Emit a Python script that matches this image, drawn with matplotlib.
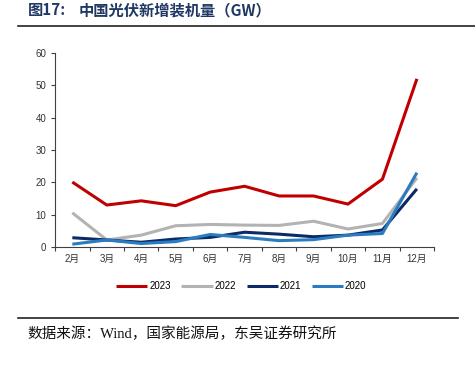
import matplotlib.pyplot as plt
from matplotlib.lines import Line2D

plt.rcParams['font.family'] = ['Liberation Sans', 'Noto Sans CJK SC', 'DejaVu Sans']

months = ['2月', '3月', '4月', '5月', '6月', '7月', '8月', '9月', '10月', '11月', '12月']
y2023 = [20.1, 13.0, 14.3, 12.8, 17.0, 18.8, 15.8, 15.8, 13.3, 21.0, 52.0]
y2022 = [10.6, 2.2, 3.7, 6.6, 7.0, 6.8, 6.7, 8.0, 5.6, 7.3, 21.4]
y2021 = [2.9, 2.2, 1.5, 2.5, 3.0, 4.6, 4.0, 3.2, 3.7, 5.3, 18.0]
y2020 = [0.9, 2.2, 1.1, 1.7, 3.9, 3.0, 2.0, 2.3, 3.7, 4.2, 23.0]

series = [('2023', y2023, '#c00000'), ('2022', y2022, '#b3b3b3'),
          ('2021', y2021, '#0c2a66'), ('2020', y2020, '#2a7bc0')]

fig = plt.figure(figsize=(4.75, 3.65), dpi=100)
ax = fig.add_axes([0.116, 0.323, 0.798, 0.532])

x = list(range(len(months)))
for name, vals, col in series:
    ax.plot(x, vals, color=col, lw=2.2, label=name, solid_capstyle='butt')

ax.set_xlim(-0.5, len(months) - 0.5)
ax.set_ylim(0, 60)
ax.set_yticks(range(0, 61, 10))
ax.set_xticks([i - 0.5 for i in range(len(months) + 1)])
ax.set_xticklabels([])
ax.set_xticks(x, minor=True)
ax.set_xticklabels(months, minor=True)
ax.tick_params(axis='x', which='major', length=3, direction='out', color='#404040')
ax.tick_params(axis='x', which='minor', length=0, pad=5, labelsize=7, labelcolor='#333333')
ax.tick_params(axis='y', length=3, labelsize=7, labelcolor='#333333', color='#404040')
for s in ['top', 'right']:
    ax.spines[s].set_visible(False)
for s in ['left', 'bottom']:
    ax.spines[s].set_color('#404040')
    ax.spines[s].set_linewidth(0.8)

fig.legend(loc='center', bbox_to_anchor=(0.508, 0.216), ncol=4, frameon=False,
           fontsize=7, handlelength=3.2, handletextpad=0.2, columnspacing=1.1)

cjk = ['Noto Sans CJK SC', 'DejaVu Sans']
fig.text(0.058, 0.972, '图17:', fontsize=11, fontweight='bold',
         color='#1f3864', va='center', family=cjk)
fig.text(0.165, 0.972, '中国光伏新增装机量（GW）', fontsize=11, fontweight='bold',
         color='#1f3864', va='center', family=cjk)
fig.add_artist(Line2D([0.038, 1.0], [0.93, 0.93], color='#222222', lw=1.2))
fig.add_artist(Line2D([0.038, 0.965], [0.129, 0.129], color='#222222', lw=1.2))
fig.text(0.057, 0.085, '数据来源：Wind，国家能源局，东吴证券研究所', fontsize=10.5,
         color='#111111', va='center', family=['Liberation Serif', 'Noto Sans CJK SC'])

fig.savefig('out.png', dpi=100)
